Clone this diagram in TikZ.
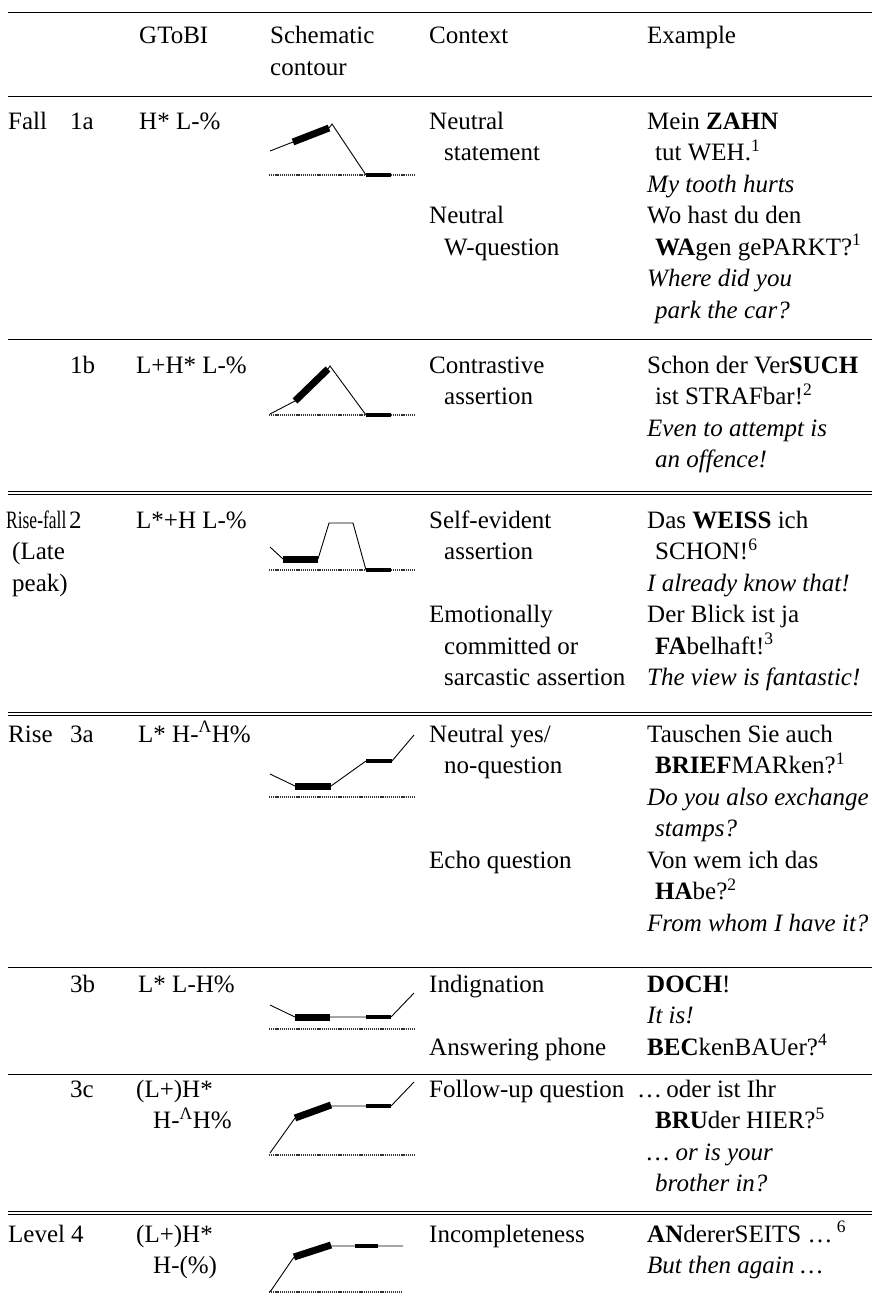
\documentclass[tikz,border=0pt]{standalone}
\usepackage{fontspec}
\setmainfont{Liberation Serif}

\newcommand\upst{\textsuperscript{Λ}}
% one table cell: name, x, hanging indent, first baseline, lines
\newcommand\tabcell[5]{%
  \foreach \rowtext [count=\i from 0] in {#5}{%
    \pgfmathsetmacro\xo{#2+(\i>0)*#3}
    \node[txt] (#1-\i) at (\xo,#4+\i*\pitch) {\rowtext};
  }}

\begin{document}
\begin{tikzpicture}[x=1pt,y=-1pt,
    txt/.style={anchor=base west, inner sep=0pt, font=\fontsize{25}{30}\selectfont},
    rulex/.style={line width=1pt},
    refline/.style={line width=1.2pt, dash pattern=on 1.2pt off 0.9pt, black!80},
    contline/.style={line width=0.9pt},
    accentbar/.style={line width=7pt},
    phrasebar/.style={line width=4.5pt}]
	\useasboundingbox (0,0) rectangle (872,1298);

	\def\pitch{31.5};
	\def\xL{8};
	\def\xR{872};
	\def\xNum{70};
	\def\xTobi{138};
	\def\xCtx{429};
	\def\xEx{647};

	% rules
	\begin{scope}[rulex]
		\draw (\xL,13) -- (\xR,13);
		\draw (\xL,96) -- (\xR,96);
		\draw (\xL,339) -- (\xR,339);
		\draw (\xL,491.5) -- (\xR,491.5);
		\draw (\xL,494.5) -- (\xR,494.5);
		\draw (\xL,712) -- (\xR,712);
		\draw (\xL,715) -- (\xR,715);
		\draw (\xL,967) -- (\xR,967);
		\draw (\xL,1074) -- (\xR,1074);
		\draw (\xL,1211) -- (\xR,1211);
		\draw (\xL,1214) -- (\xR,1214);
	\end{scope}

	% header
	\node[txt] (hTobi) at (139,44) {GToBI};
	\tabcell{hSchem}{270}{0}{44}{Schematic, contour}
	\node[txt] (hCtx) at (\xCtx,44) {Context};
	\node[txt] (hEx) at (\xEx,44) {Example};

	% 1a
	\node[txt] (fall) at (\xL,129) {Fall};
	\node[txt] (n1a) at (\xNum,129) {1a};
	\node[txt] (t1a) at (139,129) {H* L-\%};
	\tabcell{c1a}{\xCtx}{15}{129}{Neutral, statement}
	\tabcell{d1a}{\xCtx}{15}{129+3*\pitch}{Neutral, W-question}
	\tabcell{g1a}{\xEx}{8}{129}{{Mein \textbf{ZAHN}}, {tut WEH.\textsuperscript{1}}}
	\tabcell{e1a}{\xEx}{8}{129+2*\pitch}{\textit{My tooth hurts}}
	\tabcell{h1a}{\xEx}{8}{129+3*\pitch}{{Wo hast du den}, {\textbf{WA}gen gePARKT?\textsuperscript{1}}}
	\tabcell{f1a}{\xEx}{8}{129+5*\pitch}{\textit{Where did you}, \textit{park the car?}}
	\draw[refline] (269,175) -- (415,175);
	\draw[contline] (270,151) -- (293,142) (329,128) -- (332,124) -- (366,175);
	\draw[accentbar] (293,142) -- (329,128);
	\draw[phrasebar] (366,175) -- (391,175);

	% 1b
	\node[txt] (n1b) at (\xNum,373) {1b};
	\node[txt] (t1b) at (136,373) {L+H* L-\%};
	\tabcell{c1b}{\xCtx}{15}{373}{Contrastive, assertion}
	\tabcell{g1b}{\xEx}{8}{373}{{Schon der Ver\textbf{SUCH}}, {ist STRAFbar!\textsuperscript{2}}}
	\tabcell{e1b}{\xEx}{8}{373+2*\pitch}{\textit{Even to attempt is}, \textit{an offence!}}
	\draw[refline] (269,415) -- (415,415);
	\draw[contline] (270,414) -- (295,401) (328,369) -- (330,366) -- (366,415);
	\draw[accentbar] (295,401) -- (328,369);
	\draw[phrasebar] (366,415) -- (391,415);

	% 2
	\node[txt, xscale=0.7, transform shape] (risefall) at (6,528) {Rise-fall};
	\node[txt] (late-0) at (12,528+\pitch) {(Late};
	\node[txt] (late-1) at (12,528+2*\pitch) {peak)};
	\node[txt] (n2) at (69,528) {2};
	\node[txt] (t2) at (136,528) {L*+H L-\%};
	\tabcell{c2}{\xCtx}{15}{528}{Self-evident, assertion}
	\tabcell{d2}{\xCtx}{15}{528+3*\pitch}{Emotionally, committed or, sarcastic assertion}
	\tabcell{g2}{\xEx}{8}{528}{{Das \textbf{WEISS} ich}, {SCHON!\textsuperscript{6}}}
	\tabcell{e2}{\xEx}{8}{528+2*\pitch}{\textit{I already know that!}}
	\tabcell{h2}{\xEx}{8}{528+3*\pitch}{{Der Blick ist ja}, {\textbf{FA}belhaft!\textsuperscript{3}}}
	\tabcell{f2}{\xEx}{8}{528+5*\pitch}{\textit{The view is fantastic!}}
	\draw[refline] (269,570) -- (415,570);
	\draw[contline] (270,547) -- (283,559) (318,559) -- (329,523) -- (353,523) -- (366,570);
	\draw[accentbar] (283,559) -- (318,559);
	\draw[phrasebar] (366,570) -- (391,570);

	% 3a
	\node[txt] (rise) at (\xL,742) {Rise};
	\node[txt] (n3a) at (\xNum,742) {3a};
	\node[txt] (t3a) at (\xTobi,742) {L* H-\upst H\%};
	\tabcell{c3a}{\xCtx}{15}{742}{Neutral yes/, no-question}
	\tabcell{d3a}{\xCtx}{15}{742+4*\pitch}{Echo question}
	\tabcell{g3a}{\xEx}{8}{742}{{Tauschen Sie auch}, {\textbf{BRIEF}MARken?\textsuperscript{1}}}
	\tabcell{e3a}{\xEx}{8}{742+2*\pitch}{\textit{Do you also exchange}, \textit{stamps?}}
	\tabcell{h3a}{\xEx}{8}{742+4*\pitch}{{Von wem ich das}, {\textbf{HA}be?\textsuperscript{2}}}
	\tabcell{f3a}{\xEx}{8}{742+6*\pitch}{\textit{From whom I have it?}}
	\draw[refline] (269,797) -- (414,797);
	\draw[contline] (270,774) -- (295,786) (331,786) -- (366,761) (392,761) -- (414,735);
	\draw[accentbar] (295,786) -- (331,786);
	\draw[phrasebar] (366,761) -- (392,761);

	% 3b
	\node[txt] (n3b) at (\xNum,992) {3b};
	\node[txt] (t3b) at (\xTobi,992) {L* L-H\%};
	\tabcell{c3b}{\xCtx}{15}{992}{Indignation}
	\tabcell{d3b}{\xCtx}{15}{992+2*\pitch}{Answering phone}
	\tabcell{g3b}{\xEx}{8}{992}{{\textbf{DOCH}!}}
	\tabcell{e3b}{\xEx}{8}{992+\pitch}{\textit{It is!}}
	\tabcell{h3b}{\xEx}{8}{992+2*\pitch}{{\textbf{BEC}kenBAUer?\textsuperscript{4}}}
	\draw[refline] (269,1029) -- (414,1029);
	\draw[contline] (270,1005) -- (295,1017) (330,1017) -- (366,1017) (391,1017) -- (414,993);
	\draw[accentbar] (295,1017) -- (330,1017);
	\draw[phrasebar] (366,1017) -- (391,1017);

	% 3c
	\node[txt] (n3c) at (\xNum,1097) {3c};
	\tabcell{t3c}{136}{17}{1097}{{(L+)H*}, {H-\upst H\%}}
	\tabcell{c3c}{\xCtx}{15}{1097}{Follow-up question}
	\node[txt] (g3c-0) at (637,1097) {\dots\,oder ist Ihr};
	\node[txt] (g3c-1) at (\xEx+8,1097+\pitch) {\textbf{BRU}der HIER?\textsuperscript{5}};
	\tabcell{e3c}{\xEx}{8}{1097+2*\pitch}{\textit{\dots\ or is your}, \textit{brother in?}}
	\draw[refline] (269,1155) -- (414,1155);
	\draw[contline] (270,1153) -- (295,1118) (331,1106) -- (366,1106) (391,1106) -- (414,1082);
	\draw[accentbar] (295,1118) -- (331,1105);
	\draw[phrasebar] (366,1106) -- (391,1106);

	% 4
	\node[txt] (level) at (\xL,1242) {Level};
	\node[txt] (n4) at (71,1242) {4};
	\tabcell{t4}{136}{17}{1242}{{(L+)H*}, {H-(\%)}}
	\tabcell{c4}{\xCtx}{15}{1242}{Incompleteness}
	\tabcell{g4}{\xEx}{8}{1242}{{\textbf{AN}dererSEITS \dots\,\textsuperscript{6}}}
	\tabcell{e4}{\xEx}{8}{1242+\pitch}{{\textit{But then again \dots}}}
	\draw[refline] (269,1292) -- (402,1292);
	\draw[contline] (270,1292) -- (294,1257) (331,1246) -- (355,1246) (378,1246) -- (403,1246);
	\draw[accentbar] (294,1257) -- (331,1245);
	\draw[phrasebar] (355,1246) -- (378,1246);
\end{tikzpicture}
\end{document}
